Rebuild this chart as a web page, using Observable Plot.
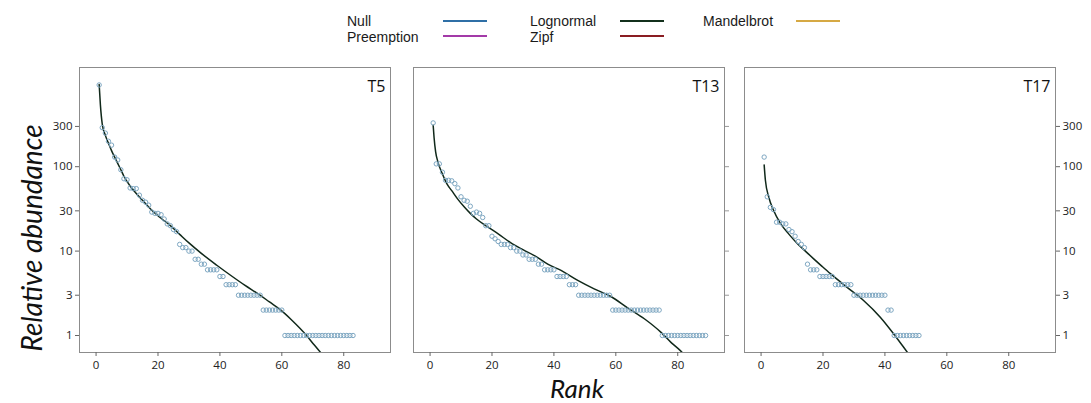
<!DOCTYPE html>
<html>
<head>
<meta charset="utf-8">
<script src="https://cdn.jsdelivr.net/npm/d3@7"></script>
<script src="https://cdn.jsdelivr.net/npm/@observablehq/plot@0.6"></script>
<style>
  body { margin: 0; background: #fff; }
  #chart { position: relative; width: 1091px; height: 403px; overflow: hidden; background: #fff;
           font-family: "Liberation Sans", Arial, sans-serif; }
  .panel { position: absolute; top: 60px; }
  .leg { position: absolute; font-size: 14px; line-height: 14px; color: #1a1a1a; white-space: nowrap; }
  .swatch { position: absolute; height: 2px; width: 44px; }
  .axis-title { position: absolute; font-family: Lato, sans-serif; font-style: italic; color: #111;
                white-space: nowrap; line-height: 1; }
</style>
</head>
<body>
<div id="chart"></div>
<script>
// Rank–abundance distributions (abundance at rank 1, 2, 3, ...)
const t5Abundance = [930, 290, 250, 200, 180, 130, 120, 92, 72, 70,
  56, 55, 55, 46, 40, 38, 35, 29, 28, 28,
  27, 24, 21, 20, 18, 17, 12, 11, 11, 10,
  10, 8, 8, 7, 7, 6, 6, 6, 6, 5,
  5, 4, 4, 4, 4, 3, 3, 3, 3, 3,
  3, 3, 3, 2, 2, 2, 2, 2, 2, 2,
  1, 1, 1, 1, 1, 1, 1, 1, 1, 1,
  1, 1, 1, 1, 1, 1, 1, 1, 1, 1,
  1, 1, 1];
const t13Abundance = [330, 108, 108, 86, 69, 69, 68, 63, 56, 44,
  40, 39, 34, 28, 29, 28, 25, 20, 20, 15,
  14, 13, 12, 12, 12, 11, 11, 10, 10, 9,
  9, 8, 8, 8, 7, 7, 6, 6, 6, 6,
  5, 5, 5, 5, 4, 4, 4, 3, 3, 3,
  3, 3, 3, 3, 3, 3, 3, 3, 2, 2,
  2, 2, 2, 2, 2, 2, 2, 2, 2, 2,
  2, 2, 2, 2, 1, 1, 1, 1, 1, 1,
  1, 1, 1, 1, 1, 1, 1, 1, 1];
const t17Abundance = [130, 44, 33, 31, 22, 22, 21, 21, 18, 17,
  15, 13, 12, 11, 7, 6, 6, 6, 5, 5,
  5, 5, 5, 4, 4, 4, 4, 4, 4, 3,
  3, 3, 3, 3, 3, 3, 3, 3, 3, 3,
  2, 2, 1, 1, 1, 1, 1, 1, 1, 1,
  1];

// Fitted lognormal curves as [rank, abundance]
const t5Lognormal = [[1, 940], [1.4, 540], [2, 320], [3, 235], [4, 190], [5, 155], [6, 130],
  [8, 92], [9, 77], [11, 59], [13, 48], [15, 40], [18, 30.5], [21, 24.5], [24, 20],
  [27, 15.8], [30, 12.5], [34, 9.4], [39, 6.8], [44, 5.0], [48, 3.95], [52.7, 3.05],
  [56, 2.5], [59.7, 2.0], [63, 1.55], [68, 1.0], [70.5, 0.77], [73, 0.6]];
const t13Lognormal = [[1, 310], [1.3, 220], [1.8, 150], [2.5, 115], [4, 82], [5.5, 62],
  [7, 52], [9, 41], [11, 33.5], [13, 28], [15, 24], [18.5, 19.5], [22, 16], [26, 12.6],
  [30, 10.4], [34, 8.7], [38, 7.0], [42.3, 5.9], [47.7, 4.5], [53, 3.57], [58.4, 2.9],
  [63.8, 2.13], [69.2, 1.58], [74.6, 1.09], [77.8, 0.83], [80.5, 0.68], [82, 0.6]];
const t17Lognormal = [[1, 105], [1.4, 69], [2.5, 43.5], [4.1, 30], [6.2, 21.4], [8.9, 16],
  [11.6, 12.4], [14.3, 10], [17, 8.1], [19.7, 6.6], [22.4, 5.4], [27.7, 3.74],
  [33.1, 2.6], [38.5, 1.65], [42.8, 1.05], [46, 0.73], [48, 0.58]];

const panelNames = ["T5", "T13", "T17"];
const xTicks = [0, 20, 40, 60, 80];
const yTicks = [1, 3, 10, 30, 100, 300];

const legendNames = ["Null", "Preemption", "Lognormal", "Zipf", "Mandelbrot"];
const legendColors = ["#2f6fa6", "#a33aa8", "#13301c", "#8a1d22", "#d6a944"];

const chart = document.getElementById("chart");

// Legend: three columns, two rows
const legendSlots = [[347, 443, 0], [347, 443, 1], [530, 620, 0], [530, 620, 1], [703, 796, 0]];
legendNames.forEach((name, i) => {
  const [tx, sx, row] = legendSlots[i];
  const label = document.createElement("div");
  label.className = "leg";
  label.textContent = name;
  label.style.left = tx + "px";
  label.style.top = (13.5 + row * 16) + "px";
  chart.appendChild(label);
  const sw = document.createElement("div");
  sw.className = "swatch";
  sw.style.left = sx + "px";
  sw.style.top = (19.5 + row * 15) + "px";
  sw.style.background = legendColors[i];
  chart.appendChild(sw);
});

function drawPanel({name, abundance, fit, left, width, marginLeft, marginRight, yAxis}) {
  const points = abundance.map((value, i) => ({rank: i + 1, value}));
  const curve = fit.map(([rank, value]) => ({rank, value}));
  const marks = [
    Plot.frame({stroke: "#8c8c8c", strokeWidth: 1}),
    Plot.axisX({ticks: xTicks, tickSize: 4, tickPadding: 4, label: null, stroke: "#666"}),
    Plot.line(curve, {x: "rank", y: "value", stroke: "#10281a", strokeWidth: 1.5,
                      curve: "monotone-x", clip: true}),
    Plot.dot(points, {x: "rank", y: "value", r: 2.2, stroke: "#7ea7c2",
                      strokeWidth: 1, fill: "none"}),
    Plot.text([name], {frameAnchor: "top-right", dx: -5, dy: 13, fontSize: 16,
                       fill: "#111", textAnchor: "end"})
  ];
  if (yAxis === "left") {
    marks.push(Plot.axisY({anchor: "left", ticks: yTicks, tickFormat: d => String(d),
                           tickSize: 4, tickPadding: 3, label: null, stroke: "#666"}));
  } else if (yAxis === "right-ticks") {
    marks.push(Plot.axisY({anchor: "right", ticks: yTicks, tickFormat: () => "",
                           tickSize: 4, label: null, stroke: "#999"}));
  } else {
    marks.push(Plot.axisY({anchor: "right", ticks: yTicks, tickFormat: d => String(d),
                           tickSize: 4, tickPadding: 3, label: null, stroke: "#666"}));
  }
  const plot = Plot.plot({
    width, height: 320,
    marginLeft, marginRight, marginTop: 7, marginBottom: 28,
    x: {domain: [-5.35, 95.1]},
    y: {type: "log", domain: [0.629, 1497]},
    style: {fontFamily: '"Open Sans", sans-serif', fontSize: "11.5px", color: "#222",
            background: "transparent", overflow: "visible"},
    marks
  });
  const holder = document.createElement("div");
  holder.className = "panel";
  holder.style.left = left + "px";
  holder.appendChild(plot);
  chart.appendChild(holder);
}

drawPanel({name: panelNames[0], abundance: t5Abundance, fit: t5Lognormal,
           left: 0, width: 395, marginLeft: 79, marginRight: 5, yAxis: "left"});
drawPanel({name: panelNames[1], abundance: t13Abundance, fit: t13Lognormal,
           left: 400, width: 330, marginLeft: 13, marginRight: 6, yAxis: "right-ticks"});
drawPanel({name: panelNames[2], abundance: t17Abundance, fit: t17Lognormal,
           left: 730, width: 361, marginLeft: 14, marginRight: 36, yAxis: "right"});

// Shared axis titles
const yTitle = document.createElement("div");
yTitle.className = "axis-title";
yTitle.textContent = "Relative abundance";
yTitle.style.fontSize = "28px";
yTitle.style.left = "31px";
yTitle.style.top = "238px";
yTitle.style.transform = "translate(-50%, -50%) rotate(-90deg)";
chart.appendChild(yTitle);

const xTitle = document.createElement("div");
xTitle.className = "axis-title";
xTitle.textContent = "Rank";
xTitle.style.fontSize = "26px";
xTitle.style.left = "577px";
xTitle.style.top = "388px";
xTitle.style.transform = "translate(-50%, -50%)";
chart.appendChild(xTitle);
</script>
</body>
</html>
